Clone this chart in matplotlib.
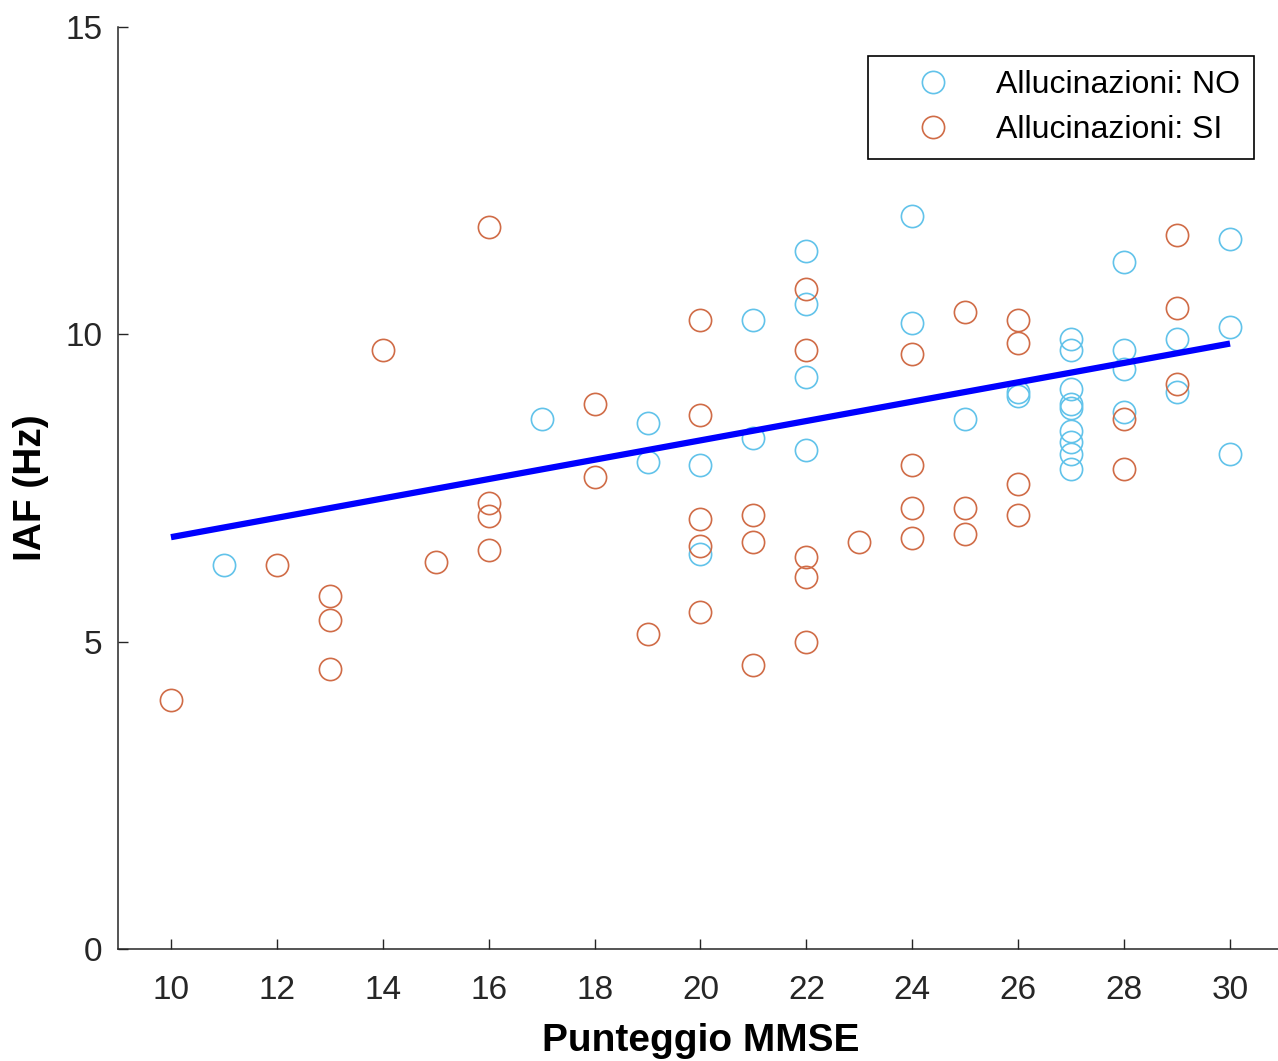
import matplotlib

matplotlib.use("Agg")

import matplotlib.pyplot as plt

plt.rcParams["font.family"] = ["Liberation Sans", "DejaVu Sans"]

# Allucinazioni: NO
NO_MMSE = [11, 17, 19, 19, 20, 20, 21, 21, 22, 22, 22, 22, 24, 24, 25, 26, 26,
           27, 27, 27, 27, 27, 27, 27, 27, 27, 28, 28, 28, 28, 29, 29, 30, 30, 30]
NO_IAF = [6.24, 8.62, 8.56, 7.93, 7.87, 6.43, 10.24, 8.31, 11.36, 10.49, 9.31, 8.12,
          11.93, 10.18, 8.62, 9.06, 9.00,
          9.93, 9.74, 9.11, 8.87, 8.80, 8.43, 8.25, 8.06, 7.81,
          11.18, 9.74, 9.43, 8.74, 9.93, 9.06, 11.55, 10.12, 8.06]

# Allucinazioni: SI
SI_MMSE = [10, 12, 13, 13, 13, 14, 15, 16, 16, 16, 16, 18, 18, 19,
           20, 20, 20, 20, 20, 21, 21, 21, 22, 22, 22, 22, 22, 23,
           24, 24, 24, 24, 25, 25, 25, 26, 26, 26, 26, 28, 28, 29, 29, 29]
SI_IAF = [4.05, 6.24, 5.74, 5.36, 4.56, 9.74, 6.30, 11.74, 7.25, 7.05, 6.49, 8.87, 7.68, 5.12,
          10.24, 8.68, 6.99, 6.56, 5.49, 7.06, 6.62, 4.62, 10.74, 9.74, 6.37, 6.06, 5.00, 6.62,
          9.68, 7.87, 7.18, 6.68, 10.36, 7.18, 6.75, 10.24, 9.86, 7.56, 7.06, 8.62, 7.81,
          11.62, 10.43, 9.19]

# linear fit endpoints
FIT_X = [10, 30]
FIT_Y = [6.70, 9.85]

XTICKS = list(range(10, 31, 2))
YTICKS = [0, 5, 10, 15]

BLUE = "#62C3EA"
RED = "#D06C47"

W, H = 1278, 1061
fig = plt.figure(figsize=(W / 100, H / 100), dpi=100)
ax = fig.add_axes([118 / W, 1 - 949 / H, (1283 - 118) / W, (949 - 27) / H])

ax.plot(NO_MMSE, NO_IAF, "o", mfc="none", mec=BLUE, ms=16, mew=1.2,
        label="Allucinazioni: NO")
ax.plot(SI_MMSE, SI_IAF, "o", mfc="none", mec=RED, ms=16, mew=1.2,
        label="Allucinazioni: SI")
ax.plot(FIT_X, FIT_Y, color="#0000FF", lw=4.5, solid_capstyle="butt")

ax.set_xlim(9, 31)
ax.set_ylim(0, 15)
ax.set_xticks(XTICKS)
ax.set_yticks(YTICKS)
ax.spines["top"].set_visible(False)
ax.spines["right"].set_visible(False)
for s in ("left", "bottom"):
    ax.spines[s].set_linewidth(1.1)
    ax.spines[s].set_color("#262626")
ax.tick_params(direction="in", length=7, width=1.0, labelsize=24, colors="#262626")
ax.tick_params(axis="x", pad=19)
ax.tick_params(axis="y", pad=11)

ax.set_xlabel("Punteggio MMSE", fontsize=28, fontweight="bold", labelpad=12)
ax.set_ylabel("IAF (Hz)", fontsize=28, fontweight="bold", labelpad=12)

leg = ax.legend(loc="upper right", bbox_to_anchor=(1254 / W, 1 - 56 / H),
                bbox_transform=fig.transFigure, fontsize=23, numpoints=1,
                fancybox=False, framealpha=1, edgecolor="black",
                borderpad=0.45, handlelength=3.2, handletextpad=0.35,
                labelspacing=0.45, borderaxespad=0)
leg.get_frame().set_linewidth(1.2)

fig.savefig("out.png", dpi=100)
